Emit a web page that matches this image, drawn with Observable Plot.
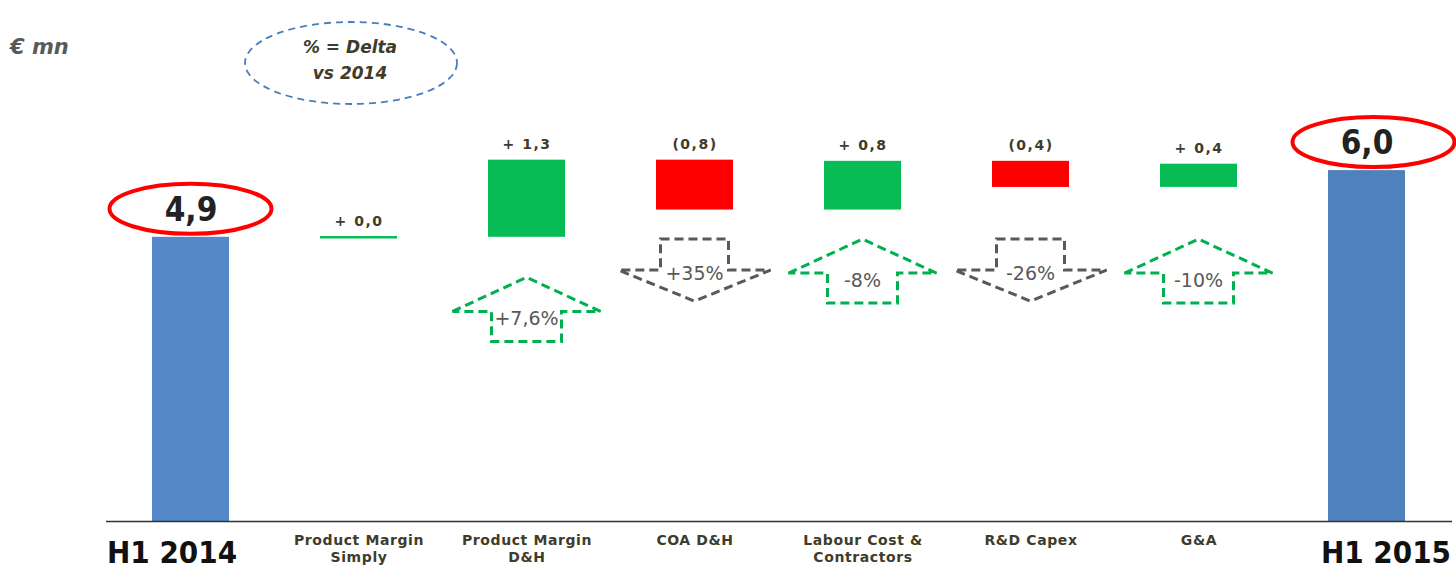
<!DOCTYPE html>
<html><head><meta charset="utf-8">
<script src="https://cdn.jsdelivr.net/npm/d3@7"></script>
<script src="https://cdn.jsdelivr.net/npm/@observablehq/plot@0.6"></script>
<style>
body{margin:0;background:#fff}
#chart svg{display:block}
</style>
</head><body><div id="chart"></div>
<script>
// ---- data ----
const categories = ["H1 2014", "Product Margin\nSimply", "Product Margin\nD&H", "COA D&H",
  "Labour Cost &\nContractors", "R&D Capex", "G&A", "H1 2015"];
const kinds = ["total", "delta", "delta", "delta", "delta", "delta", "delta", "total"];
const values = [4.9, 0.0, 1.33, -0.86, 0.84, -0.45, 0.40, 6.05];
const valueLabels = ["4,9", "+ 0,0", "+ 1,3", "(0,8)", "+ 0,8", "(0,4)", "+ 0,4", "6,0"];
const deltaPct = [null, null, "+7,6%", "+35%", "-8%", "-26%", "-10%", null];
const arrowDir = [null, null, "up", "down", "up", "down", "up", null];
const unitLabel = "€ mn";
const noteLines = ["% = Delta", "vs 2014"];

// ---- colours / fonts ----
const C = {total0: "#5588c8", total1: "#4f81bd", up: "#07bb55", down: "#ff0000",
  arrowUp: "#00b050", arrowDown: "#595959", text: "#403c2b", big: "#222222"};
const COND = "'DejaVu Sans Condensed', 'Liberation Sans Narrow', 'DejaVu Sans', sans-serif";

let cum = 0;
const rows = categories.map((cat, i) => {
  let start, end;
  if (kinds[i] === "total") { start = 0; end = values[i]; cum = values[i]; }
  else { start = cum; end = cum + values[i]; cum = end; }
  const color = kinds[i] === "total" ? (i === 0 ? C.total0 : C.total1) : (values[i] >= 0 ? C.up : C.down);
  return {i, cat, kind: kinds[i], value: values[i], start, end, color,
    label: valueLabels[i], pct: deltaPct[i], dir: arrowDir[i]};
});
const totals = rows.filter(d => d.kind === "total");
const deltas = rows.filter(d => d.kind === "delta");

function annotations(index, scales) {
  const x = scales.x, y = scales.y;
  const bw = typeof x.bandwidth === "function" ? x.bandwidth() : 0;
  const cx = c => x(c) + bw / 2;
  const g = d3.create("svg:g").attr("text-anchor", "start");
  // red ellipses around totals
  for (const d of totals) {
    g.append("ellipse").attr("cx", cx(d.cat) + (d.i === 0 ? 0 : 7)).attr("cy", y(d.end) - 28)
      .attr("rx", 81).attr("ry", 25).attr("fill", "none").attr("stroke", "#ff0000").attr("stroke-width", 4);
  }
  // dashed arrows (a row below the bars, lowered when a bar reaches down to it)
  const rowLevel = 4.86;
  for (const d of deltas.filter(d => d.dir)) {
    const bottom = Math.min(d.start, d.end);
    const top = y(bottom - 0.5 < rowLevel ? bottom - 0.7 : rowLevel);
    const c = cx(d.cat);
    let pts, ty;
    if (d.dir === "up") {
      pts = [[-74, 34], [0, 0], [74, 34], [35, 34], [35, 64], [-35, 64], [-35, 34]];
      ty = 41;
    } else {
      pts = [[-34, 0], [34, 0], [34, 31], [76, 31], [0, 62], [-76, 31], [-34, 31]];
      ty = 34;
    }
    const col = d.dir === "up" ? C.arrowUp : C.arrowDown;
    g.append("path").attr("d", "M" + pts.map(p => [c + p[0], top + p[1]].join(",")).join("L") + "Z")
      .attr("fill", "none").attr("stroke", col).attr("stroke-width", 3)
      .attr("stroke-dasharray", "9,5").attr("stroke-linejoin", "miter");
    g.append("text").attr("x", c).attr("y", top + ty).attr("text-anchor", "middle")
      .attr("dominant-baseline", "central").attr("fill", "#595959")
      .attr("font-family", "DejaVu Sans").attr("font-size", 19).text(d.pct);
  }
  // unit label
  g.append("text").attr("x", 10).attr("y", 54).attr("text-anchor", "start").attr("fill", "#595959")
    .attr("font-family", "DejaVu Sans").attr("font-weight", "bold").attr("font-style", "italic")
    .attr("font-size", 21).text(unitLabel);
  // dashed blue note ellipse
  g.append("ellipse").attr("cx", 351).attr("cy", 63).attr("rx", 106).attr("ry", 41)
    .attr("fill", "none").attr("stroke", "#4a7ebb").attr("stroke-width", 1.8).attr("stroke-dasharray", "7,5");
  noteLines.forEach((t, k) => {
    g.append("text").attr("x", 350).attr("y", 53 + k * 26).attr("text-anchor", "middle")
      .attr("fill", C.text).attr("font-family", "DejaVu Sans").attr("font-weight", "bold")
      .attr("font-style", "italic").attr("font-size", 17).text(t);
  });
  return g.node();
}

const plot = Plot.plot({
  width: 1456, height: 571,
  marginLeft: 106, marginRight: 4, marginTop: 115, marginBottom: 50,
  x: {domain: categories, paddingInner: 0.54, paddingOuter: 0.27, axis: null},
  y: {domain: [0, 7], axis: null},
  color: {type: "identity"},
  style: {background: "#fff", overflow: "visible"},
  marks: [
    Plot.rectY(rows.filter(d => d.value !== 0), {x: "cat", y1: "start", y2: "end", fill: "color"}),
    Plot.tickY(rows.filter(d => d.value === 0), {x: "cat", y: "end", stroke: C.up, strokeWidth: 2.5}),
    Plot.ruleY([0], {stroke: "#333", strokeWidth: 1.5}),
    Plot.text(deltas, {x: "cat", y: d => Math.max(d.start, d.end), text: "label", dy: -16,
      fill: C.text, fontFamily: "DejaVu Sans", fontWeight: "bold", fontSize: 14, className: "dlab"}),
    Plot.text(totals, {x: "cat", y: "end", text: "label", dy: -27,
      fill: C.big, fontFamily: COND, fontWeight: "bold", fontSize: 33}),
    Plot.text(deltas, {x: "cat", y: 0, text: "cat", dy: 12, lineAnchor: "top", lineHeight: 1.2,
      fill: C.text, fontFamily: "DejaVu Sans", fontWeight: "bold", fontSize: 14, className: "clab"}),
    Plot.text(totals.slice(0, 1), {x: "cat", y: 0, text: "cat", dy: 32, dx: -84, textAnchor: "start",
      fill: "#111", fontFamily: COND, fontWeight: "bold", fontSize: 31}),
    Plot.text(totals.slice(1), {x: "cat", y: 0, text: "cat", dy: 32, dx: 84, textAnchor: "end",
      fill: "#111", fontFamily: COND, fontWeight: "bold", fontSize: 31}),
    annotations
  ]
});
plot.querySelectorAll(".dlab text").forEach(t => t.style.letterSpacing = "1.5px");
plot.querySelectorAll(".clab text").forEach(t => t.style.letterSpacing = "0.6px");
document.getElementById("chart").appendChild(plot);
</script>
</body></html>
